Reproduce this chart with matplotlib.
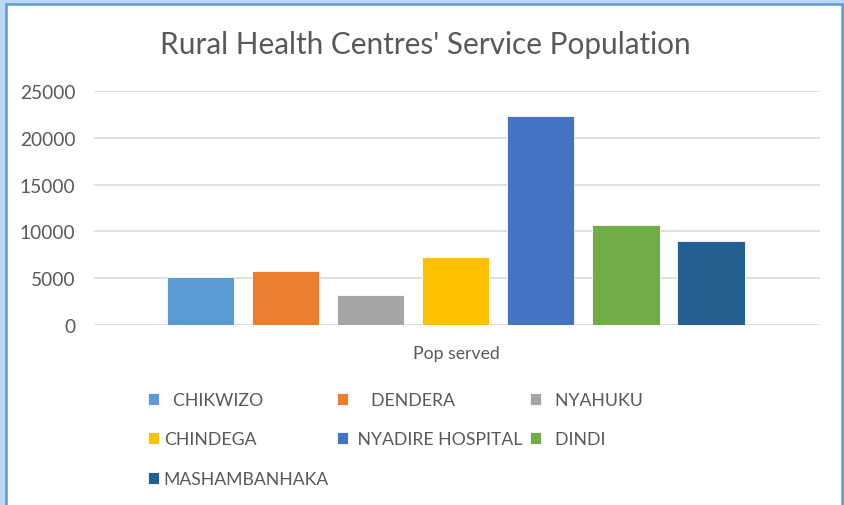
import numpy as np
import matplotlib
matplotlib.use("Agg")
import matplotlib.pyplot as plt
from matplotlib.patches import Rectangle

plt.rcParams['font.family'] = ['Lato', 'DejaVu Sans']

# Data
centres = ['  CHIKWIZO', '    DENDERA', '  NYAHUKU', 'CHINDEGA',
           ' NYADIRE HOSPITAL', '  DINDI', 'MASHAMBANHAKA']
pop_served = [5130, 5770, 3220, 7260, 22380, 10730, 8960]
colours = ['#5b9bd5', '#ed7d31', '#a5a5a5', '#ffc000',
           '#4472c4', '#70ad47', '#255e91']
category = 'Pop served'
title = "Rural Health Centres' Service Population"

W, H = 845, 506
fig = plt.figure(figsize=(W / 100, H / 100), dpi=100)

# frame behind the chart (blue pattern border, white card, soft shadow)
bg = fig.add_axes([0, 0, 1, 1], zorder=-10)
bg.set_xlim(0, W)
bg.set_ylim(H, 0)
bg.axis('off')
bg.add_patch(Rectangle((0, 0), W, H, color='#bcd7f3'))
bg.add_patch(Rectangle((6, 5), 836, H, facecolor='white',
                       edgecolor='#5b9bd5', lw=1.8))
shade = np.linspace(0.45, 1.0, 16)[:, None] * np.ones((1, 10))
bg.imshow(shade, cmap='gray', vmin=0, vmax=1, extent=(7, 841, 22, 6),
          aspect='auto', interpolation='bilinear')

# chart
ax = fig.add_axes([94 / W, 180 / H, (820 - 94) / W, (326 - 92) / H])
x = np.arange(len(centres))
bars = ax.bar(x, pop_served, width=0.79, color=colours,
              edgecolor='white', linewidth=0.6, zorder=3)

ax.set_xlim(-1.25, len(centres) - 1 + 1.28)
ax.set_ylim(0, 25000)
ax.set_yticks(np.arange(0, 25001, 5000))
ax.yaxis.grid(True, color='#d9d9d9', linewidth=1.2, zorder=0)
ax.set_xticks([])
for s in ax.spines.values():
    s.set_visible(False)
ax.tick_params(axis='y', length=0, pad=13.5, labelsize=13.8, labelcolor='#595959')
ax.set_facecolor('none')

ax.set_xlabel(category, fontsize=12.7, color='#595959')
ax.xaxis.set_label_coords((456 - 94) / (820 - 94), -0.085)

fig.text(425 / W, 1 - 45 / H, title, ha='center', va='center',
         fontsize=21.4, color='#595959')

# legend, filled row by row like the original
order = [0, 3, 6, 1, 4, 2, 5]
leg = fig.legend([bars[i] for i in order], [centres[i] for i in order],
                 ncol=3, loc='upper left', bbox_to_anchor=(139 / W, 1 - 384 / H),
                 frameon=False, fontsize=12.7, labelcolor='#595959',
                 handlelength=0.65, handleheight=0.65, handletextpad=0.25,
                 labelspacing=1.34, columnspacing=0.44, borderpad=0)

fig.savefig('out.png', dpi=100)
